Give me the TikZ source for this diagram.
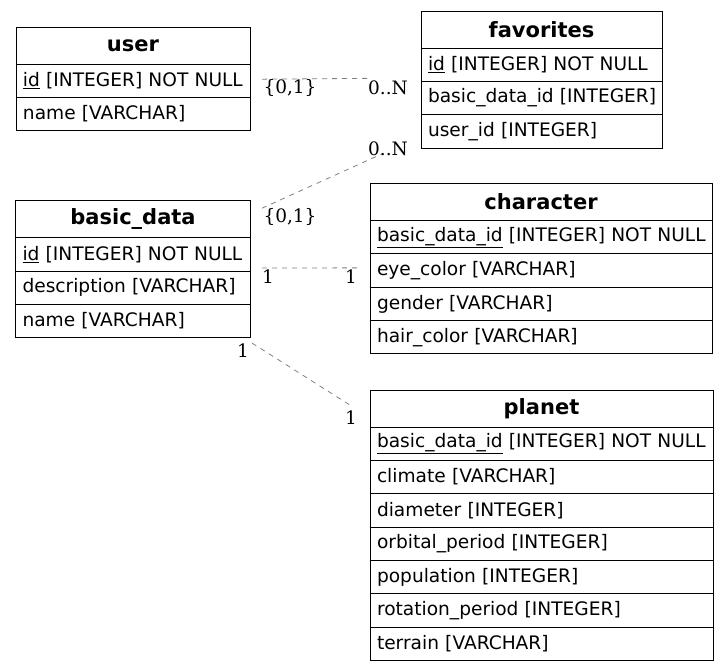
\documentclass[tikz,border=0pt]{standalone}
\usepackage{fontspec}
\setmainfont{DejaVu Serif}
\newfontfamily\tabfont{DejaVu Sans}
\usepackage{tikz}
\usetikzlibrary{positioning}

\newcommand{\rowfont}{\tabfont\fontsize{18.6}{22}\selectfont}
\newcommand{\headfont}{\tabfont\bfseries\fontsize{21}{25}\selectfont}
\newcommand{\lblfont}{\rmfamily\fontsize{18.5}{22}\selectfont}
\newcommand{\fld}[1]{\mbox{#1}}

\tikzset{
  tblhead/.style={draw, line width=0.9pt, inner sep=0pt, outer sep=0pt,
    minimum height=37pt, minimum width=#1, font=\headfont},
  tblrow/.style={draw, line width=0.9pt, inner ysep=0pt, inner xsep=7pt, outer sep=0pt,
    minimum height=33.35pt, text width=#1, align=left, font=\rowfont},
  rel/.style={draw=gray, line width=0.8pt, dash pattern=on 5pt off 5pt},
  lbl/.style={font=\lblfont, inner sep=0pt}
}

\begin{document}
\begin{tikzpicture}[x=1pt, y=-1pt]
    \useasboundingbox (0,0) rectangle (728,671);

    \node[tblhead=234pt, anchor=north west] (user-h) at (16,27) {user};
    \node[tblrow=220pt, below=0pt of user-h] (user-1) {\fld{\underline{id} [INTEGER] NOT NULL}};
    \node[tblrow=220pt, below=0pt of user-1] (user-2) {\fld{name [VARCHAR]}};

    \node[tblhead=241pt, anchor=north west] (fav-h) at (421,11) {favorites};
    \node[tblrow=227pt, below=0pt of fav-h] (fav-1) {\fld{\underline{id} [INTEGER] NOT NULL}};
    \node[tblrow=227pt, below=0pt of fav-1] (fav-2) {\fld{basic\_data\_id [INTEGER]}};
    \node[tblrow=227pt, below=0pt of fav-2] (fav-3) {\fld{user\_id [INTEGER]}};

    \node[tblhead=235pt, anchor=north west] (basic-h) at (15.5,200.7) {basic\_data};
    \node[tblrow=221pt, below=0pt of basic-h] (basic-1) {\fld{\underline{id} [INTEGER] NOT NULL}};
    \node[tblrow=221pt, below=0pt of basic-1] (basic-2) {\fld{description [VARCHAR]}};
    \node[tblrow=221pt, below=0pt of basic-2] (basic-3) {\fld{name [VARCHAR]}};

    \node[tblhead=342pt, anchor=north west] (char-h) at (370,183.5) {character};
    \node[tblrow=328pt, below=0pt of char-h] (char-1) {\fld{\underline{basic\_data\_id} [INTEGER] NOT NULL}};
    \node[tblrow=328pt, below=0pt of char-1] (char-2) {\fld{eye\_color [VARCHAR]}};
    \node[tblrow=328pt, below=0pt of char-2] (char-3) {\fld{gender [VARCHAR]}};
    \node[tblrow=328pt, below=0pt of char-3] (char-4) {\fld{hair\_color [VARCHAR]}};

    \node[tblhead=343pt, anchor=north west] (planet-h) at (370,390) {planet};
    \node[tblrow=329pt, below=0pt of planet-h] (planet-1) {\fld{\underline{basic\_data\_id} [INTEGER] NOT NULL}};
    \node[tblrow=329pt, below=0pt of planet-1] (planet-2) {\fld{climate [VARCHAR]}};
    \node[tblrow=329pt, below=0pt of planet-2] (planet-3) {\fld{diameter [INTEGER]}};
    \node[tblrow=329pt, below=0pt of planet-3] (planet-4) {\fld{orbital\_period [INTEGER]}};
    \node[tblrow=329pt, below=0pt of planet-4] (planet-5) {\fld{population [INTEGER]}};
    \node[tblrow=329pt, below=0pt of planet-5] (planet-6) {\fld{rotation\_period [INTEGER]}};
    \node[tblrow=329pt, below=0pt of planet-6] (planet-7) {\fld{terrain [VARCHAR]}};

    \draw[rel] ([shift={(12pt,1.5pt)}]user-1.east) -- ([shift={(-51pt,3pt)}]fav-2.north west);
    \draw[rel] ([shift={(11.5pt,11pt)}]basic-h.east) -- ([shift={(-39pt,-22.5pt)}]fav-3.west);
    \draw[rel] ([shift={(11.5pt,3pt)}]basic-1.south east) -- ([shift={(-12pt,-14pt)}]char-2.north west);
    \draw[rel] ([shift={(1.5pt,-5.3pt)}]basic-3.south east) -- ([shift={(-17pt,1.5pt)}]planet-h.west);

    \node[lbl] (l-user) at (290,88) {\{0,1\}};
    \node[lbl] (l-fav1) at (388,88) {0..N};
    \node[lbl] (l-fav2) at (388,149) {0..N};
    \node[lbl] (l-basic1) at (290,217) {\{0,1\}};
    \node[lbl] (l-basic2) at (268,277) {1};
    \node[lbl] (l-char) at (351,277) {1};
    \node[lbl] (l-basic3) at (243,351) {1};
    \node[lbl] (l-planet) at (351,418) {1};
\end{tikzpicture}
\end{document}
